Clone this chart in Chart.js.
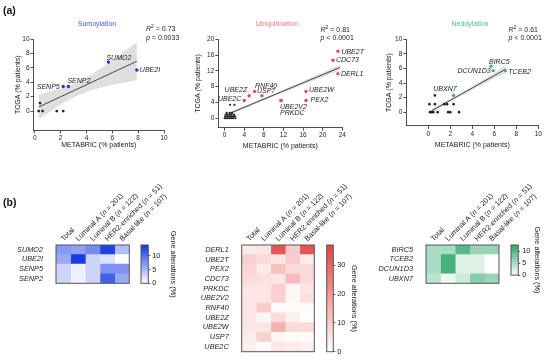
<!DOCTYPE html>
<html><head><meta charset="utf-8">
<script src="https://cdn.jsdelivr.net/npm/chart.js@4.4.0/dist/chart.umd.min.js"></script>
<style>
html,body{margin:0;padding:0;background:#fff;}
#wrap{position:relative;width:550px;height:360px;overflow:hidden;font-family:"Liberation Sans",Arial,sans-serif;color:#222;}
#wrap canvas{position:absolute;left:0;top:0;}
.t{position:absolute;white-space:nowrap;font-size:7px;line-height:8.7px;color:#222;}
.c{text-align:center;width:90px;}
.pl{position:absolute;font-weight:bold;font-size:10.5px;color:#111;}
.s{font-size:5px;vertical-align:3px;line-height:0;}
</style></head><body>
<div id="wrap">
<canvas id="c1" width="550" height="360"></canvas>
<canvas id="c2" width="550" height="360"></canvas>
<canvas id="c3" width="550" height="360"></canvas>
<canvas id="h1" width="550" height="360"></canvas>
<canvas id="h2" width="550" height="360"></canvas>
<canvas id="h3" width="550" height="360"></canvas>
<canvas id="b1" width="550" height="360"></canvas>
<canvas id="b2" width="550" height="360"></canvas>
<canvas id="b3" width="550" height="360"></canvas>
<div class="pl" style="left:3px;top:4px;">(a)</div>
<div class="pl" style="left:3px;top:196px;">(b)</div>
<div class="t c" style="left:52px;top:19.5px;color:#4457d8;">Sumoylation</div>
<div class="t c" style="left:232px;top:19.5px;color:#ee7b82;">Ubiquitination</div>
<div class="t c" style="left:425px;top:20px;color:#4cc08d;">Neddylation</div>
<div class="t" style="left:146px;top:25px;"><i>R</i><span class="s">2</span> = 0.73<br><i>p</i> = 0.0033</div>
<div class="t" style="left:320.5px;top:25.5px;"><i>R</i><span class="s">2</span> = 0.81<br><i>p</i> &lt; 0.0001</div>
<div class="t" style="left:508.5px;top:25.5px;"><i>R</i><span class="s">2</span> = 0.61<br><i>p</i> &lt; 0.0001</div>
</div>
<script>
// ---------- (a) scatter data ----------
const sumoGenes = ['SUMO2','UBE2I','SENP5','SENP2'];
const sumoMetabric = [5.7, 7.9, 2.2, 2.6];
const sumoTcga = [6.8, 5.7, 3.4, 3.4];
const sumoOtherMetabric = [0.4, 0.3, 0.6, 1.7, 2.2];
const sumoOtherTcga = [1.1, 0, 0, 0, 0];
const sumoFitX = [0.3, 1, 2, 3, 4, 5, 6, 7, 7.9];
const sumoFitY = [0.56, 1.15, 1.98, 2.82, 3.65, 4.49, 5.33, 6.16, 6.91];
const sumoBandHi = [2.26, 2.6, 3.08, 3.77, 4.65, 5.79, 7.03, 8.36, 9.51];
const sumoBandLo = [-1.14, -0.3, 0.88, 1.87, 2.65, 3.19, 3.63, 3.96, 4.31];

const ubiGenes = ['UBE2T','CDC73','DERL1','UBE2W','PEX2','UBE2V2','PRKDC','USP7','RNF40','UBE2Z','UBE2C'];
const ubiMetabric = [23.1, 22.1, 23.1, 16.6, 16.6, 11.5, 11.5, 7.6, 6.1, 5.0, 4.0];
const ubiTcga = [17.0, 14.7, 11.3, 6.8, 4.5, 4.5, 4.5, 5.7, 6.8, 5.7, 4.5];
const ubiOtherMetabric = [1.1, 2.0, 0, 0.3, 0.6, 0.9, 1.2, 1.5, 1.8, 2.2, 0.1, 0.5, 0.9, 1.3, 1.7, 2.1, 0.2, 0.6, 1.0, 1.4, 1.9, 0.4, 1.0, 1.5];
const ubiOtherTcga = [3.4, 3.4, 0, 0, 0, 0, 0, 0, 0, 0, 0.45, 0.45, 0.45, 0.45, 0.45, 0.45, 0.9, 0.9, 0.9, 0.9, 0.9, 1.35, 1.35, 1.35];
const ubiFitX = [1, 6, 12, 18, 23.5];
const ubiFitY = [1.22, 3.8, 6.9, 10.0, 12.85];
const ubiBandHi = [1.62, 4.1, 7.25, 10.5, 13.55];
const ubiBandLo = [0.82, 3.5, 6.55, 9.5, 12.15];

const neddGenes = ['BIRC5','DCUN1D3','TCEB2','UBXN7'];
const neddMetabric = [5.7, 5.9, 7.0, 2.3];
const neddTcga = [6.3, 5.7, 5.7, 2.3];
const neddOtherMetabric = [0.6, 0.1, 0.6, 1.45, 1.7, 2.3, 0.15, 0.3, 0.45, 0.85, 1.8, 2.0, 2.8];
const neddOtherTcga = [2.3, 1.1, 1.1, 1.1, 1.1, 1.1, 0, 0, 0, 0, 0, 0, 0];
const neddFitX = [0.3, 2, 4, 6, 7.05];
const neddFitY = [0.18, 1.63, 3.32, 5.02, 5.91];
const neddBandHi = [0.48, 1.83, 3.57, 5.42, 6.41];
const neddBandLo = [-0.12, 1.43, 3.07, 4.62, 5.41];

const ticks10 = [0, 2, 4, 6, 8, 10];
const ubiXTicks = [0, 4, 8, 12, 16, 20, 24];
const ubiYTicks = [0, 4, 8, 12, 16, 20];

// ---------- (b) heatmap data ----------
const subtypeNames = ['Total', 'Luminal A', 'Luminal B', 'HER2-enriched', 'Basal-like'];
const subtypeN = [null, 201, 122, 51, 107];

const sumoHeatGenes = ['SUMO2','UBE2I','SENP5','SENP2'];
const sumoHeat = [
  [7, 6.5, 8, 13, 4.5],
  [6, 13.5, 3, 2, 0],
  [3, 1, 3, 7.5, 7.5],
  [3, 1, 3, 11, 6]
];
const ubiHeatGenes = ['DERL1','UBE2T','PEX2','CDC73','PRKDC','UBE2V2','RNF40','UBE2Z','UBE2W','USP7','UBE2C'];
const ubiHeat = [
  [4, 5, 33, 10, 33],
  [9, 7, 5, 10, 4],
  [8, 4, 12, 7, 7],
  [7, 6, 5, 13, 7],
  [5, 5, 9, 2, 5],
  [5, 5, 9, 2, 6],
  [5, 10, 1, 1, 1],
  [5, 2, 7, 3, 0],
  [5, 5, 15, 7, 7],
  [4, 9, 2, 1, 1],
  [3, 1, 5, 4, 3]
];
const neddHeatGenes = ['BIRC5','TCEB2','DCUN1D3','UBXN7'];
const neddHeat = [
  [5, 5, 10, 6, 6],
  [5, 11, 2, 2, 0],
  [5, 11, 2, 2, 0],
  [4, 1, 3, 7, 6]
];
const sumoScaleMax = 14, ubiScaleMax = 37, neddScaleMax = 12.5;
const sumoBarTicks = [0, 5, 10], ubiBarTicks = [0, 10, 20, 30], neddBarTicks = [0, 5, 10];

// ---------- styles ----------
const FONT = '"Liberation Sans", Arial, sans-serif';
Chart.defaults.font.family = FONT;
Chart.defaults.color = '#222';
Chart.defaults.animation = false;
Chart.defaults.responsive = false;
Chart.defaults.devicePixelRatio = 1;
Chart.defaults.plugins.legend.display = false;
Chart.defaults.plugins.tooltip.enabled = false;

const labelOffsets = { // dx, dy, align
  SUMO2:[-2,-4.5,'left'], UBE2I:[3,0,'left'], SENP5:[-3.5,0.5,'right'], SENP2:[-1,-5.7,'left'],
  UBE2T:[3.5,0.5,'left'], CDC73:[3,0,'left'], DERL1:[3,0,'left'], UBE2W:[3,-1,'left'], PEX2:[4.5,0,'left'],
  UBE2V2:[-1,6.3,'left'], PRKDC:[-1,13,'left'], USP7:[-5,-4.3,'left'], RNF40:[0.5,-5.6,'left'],
  UBE2Z:[-2,-5.3,'right'], UBE2C:[-3,-1,'right'],
  BIRC5:[-2,-4.6,'left'], DCUN1D3:[-2.6,0,'right'], TCEB2:[3,1,'left'], UBXN7:[3,-6.4,'right']
};

function fixSize(size){
  return function(s){
    if (s.isHorizontal()) s.height = size; else s.width = size;
    s.paddingLeft = s.paddingRight = s.paddingTop = s.paddingBottom = 0;
  };
}
function setTicks(arr){ return function(s){ s.ticks = arr.map(v => ({value: v})); }; }
function pts(xs, ys){ return xs.map((x, i) => ({x: x, y: ys[i]})); }

const geneLabelPlugin = {
  id: 'geneLabels',
  afterDatasetsDraw(chart){
    const ctx = chart.ctx;
    chart.data.datasets.forEach((d, i) => {
      if (!d.geneNames) return;
      const meta = chart.getDatasetMeta(i);
      ctx.save();
      ctx.font = 'italic 7px ' + FONT;
      ctx.fillStyle = '#222';
      ctx.textBaseline = 'middle';
      meta.data.forEach((pt, j) => {
        const name = d.geneNames[j];
        const o = labelOffsets[name] || [3, 0, 'left'];
        ctx.textAlign = o[2];
        ctx.fillText(name, pt.x + o[0], pt.y + o[1]);
      });
      ctx.restore();
    });
  }
};

function scatterChart(id, c){
  const tickFont = {size: 6.5};
  new Chart(document.getElementById(id), {
    type: 'scatter',
    data: { datasets: [
      {data: pts(c.gx, c.gy), geneNames: c.genes, pointRadius: 1.7, pointBackgroundColor: c.color, pointBorderWidth: 0, order: 0},
      {data: pts(c.ox, c.oy), pointRadius: c.otherR, pointBackgroundColor: '#222', pointBorderWidth: 0, order: 1},
      {data: pts(c.fx, c.fy), showLine: true, pointRadius: 0, borderColor: '#333', borderWidth: 0.9, order: 2},
      {data: pts(c.fx, c.hi), showLine: true, pointRadius: 0, borderWidth: 0, borderColor: 'rgba(0,0,0,0)', tension: 0.35, fill: '+1', backgroundColor: 'rgba(175,175,175,0.4)', order: 3},
      {data: pts(c.fx, c.lo), showLine: true, pointRadius: 0, borderWidth: 0, borderColor: 'rgba(0,0,0,0)', tension: 0.35, order: 4}
    ]},
    options: {
      layout: {padding: {left: c.area.l - c.wy, right: 550 - c.area.r, top: c.area.t, bottom: 360 - c.area.b - c.hx}},
      scales: {
        x: {type: 'linear', min: c.xMin, max: c.xMax, afterBuildTicks: setTicks(c.xTicks), afterFit: fixSize(c.hx),
            ticks: {font: tickFont, padding: 1, maxRotation: 0, color: '#222'},
            grid: {display: true, drawOnChartArea: false, drawTicks: true, tickLength: 3, color: '#222', lineWidth: 0.8},
            border: {display: true, color: '#222', width: 0.8},
            title: {display: true, text: 'METABRIC (% patients)', font: {size: 7}, padding: 0, color: '#222'}},
        y: {type: 'linear', min: c.yMin, max: c.yMax, afterBuildTicks: setTicks(c.yTicks), afterFit: fixSize(c.wy),
            ticks: {font: tickFont, padding: 1, color: '#222'},
            grid: {display: true, drawOnChartArea: false, drawTicks: true, tickLength: 3, color: '#222', lineWidth: 0.8},
            border: {display: true, color: '#222', width: 0.8},
            title: {display: true, text: 'TCGA (% patients)', font: {size: 7}, padding: 0, color: '#222'}}
      }
    },
    plugins: [geneLabelPlugin]
  });
}

scatterChart('c1', {genes: sumoGenes, gx: sumoMetabric, gy: sumoTcga, ox: sumoOtherMetabric, oy: sumoOtherTcga, otherR: 1.4,
  fx: sumoFitX, fy: sumoFitY, hi: sumoBandHi, lo: sumoBandLo, color: '#2236c9',
  area: {l: 33.5, r: 164, t: 39, b: 130.5}, wy: 19.7, hx: 18.4, xMin: -0.1, xMax: 10, yMin: -2.7, yMax: 10, xTicks: ticks10, yTicks: ticks10});
scatterChart('c2', {genes: ubiGenes, gx: ubiMetabric, gy: ubiTcga, ox: ubiOtherMetabric, oy: ubiOtherTcga, otherR: 1.1,
  fx: ubiFitX, fy: ubiFitY, hi: ubiBandHi, lo: ubiBandLo, color: '#e84a55',
  area: {l: 218.3, r: 342.3, t: 39.3, b: 127.7}, wy: 24.2, hx: 22.2, xMin: -1.3, xMax: 24, yMin: -2.4, yMax: 20, xTicks: ubiXTicks, yTicks: ubiYTicks});
scatterChart('c3', {genes: neddGenes, gx: neddMetabric, gy: neddTcga, ox: neddOtherMetabric, oy: neddOtherTcga, otherR: 1.3,
  fx: neddFitX, fy: neddFitY, hi: neddBandHi, lo: neddBandLo, color: '#3db37c',
  area: {l: 406.3, r: 538.3, t: 39.3, b: 126}, wy: 21.2, hx: 23.2, xMin: -2, xMax: 10, yMin: -1.9, yMax: 10, xTicks: ticks10, yTicks: ticks10});

// ---------- heatmaps ----------
function mix(rgb, t){
  t = Math.max(0, Math.min(1, t));
  const r = Math.round(255 + (rgb[0] - 255) * t), g = Math.round(255 + (rgb[1] - 255) * t), b = Math.round(255 + (rgb[2] - 255) * t);
  return 'rgb(' + r + ',' + g + ',' + b + ')';
}
const decorPlugin = {
  id: 'decor',
  afterDraw(chart){
    const o = chart.options.plugins.decor || {};
    const a = chart.chartArea, ctx = chart.ctx;
    ctx.save();
    ctx.strokeStyle = '#555'; ctx.lineWidth = 1;
    ctx.strokeRect(a.left, a.top, a.right - a.left, a.bottom - a.top);
    if (o.columns){
      const xs = chart.scales.x;
      ctx.fillStyle = '#222';
      ctx.textBaseline = 'middle';
      ctx.textAlign = 'left';
      o.columns.forEach((parts, c) => {
        const cx = xs.getPixelForValue(c + 0.5);
        ctx.save();
        ctx.translate(cx - 1, a.top - 5);
        ctx.rotate(-Math.PI / 4);
        let x = 0;
        parts.forEach(p => {
          ctx.font = (p.i ? 'italic ' : '') + '7.3px ' + FONT;
          ctx.fillText(p.t, x, 0);
          x += ctx.measureText(p.t).width;
        });
        ctx.restore();
      });
    }
    ctx.restore();
  }
};
const columnParts = subtypeNames.map((nm, i) => subtypeN[i] == null ? [{t: nm}] :
  [{t: nm + ' ('}, {t: 'n', i: true}, {t: ' = ' + subtypeN[i] + ')'}]);

function heatChart(id, genes, matrix, maxVal, rgb, area, wy){
  const datasets = subtypeNames.map((nm, c) => ({
    data: genes.map(() => [c, c + 1]),
    backgroundColor: genes.map((g, r) => mix(rgb, matrix[r][c] / maxVal)),
    borderWidth: 0, barPercentage: 1, categoryPercentage: 1, grouped: false
  }));
  new Chart(document.getElementById(id), {
    type: 'bar',
    data: {labels: genes, datasets: datasets},
    options: {
      indexAxis: 'y',
      layout: {padding: {left: area.l - wy, right: 550 - area.r, top: area.t, bottom: 360 - area.b}},
      scales: {
        x: {type: 'linear', min: 0, max: 5, display: false},
        y: {grid: {display: false}, border: {display: false}, afterFit: fixSize(wy),
            ticks: {font: {size: 7.3, style: 'italic'}, padding: 5, color: '#222', autoSkip: false}}
      },
      plugins: {decor: {columns: columnParts}}
    },
    plugins: [decorPlugin]
  });
}
heatChart('h1', sumoHeatGenes, sumoHeat, sumoScaleMax, [16, 52, 226], {l: 56, r: 129.3, t: 245, b: 283.3}, 50);
heatChart('h2', ubiHeatGenes, ubiHeat, ubiScaleMax, [232, 62, 62], {l: 241.7, r: 314.3, t: 245, b: 351.7}, 50);
heatChart('h3', neddHeatGenes, neddHeat, neddScaleMax, [44, 166, 104], {l: 426, r: 499, t: 245, b: 283.3}, 50);

function barChart(id, maxVal, rgb, tickArr, area, w){
  new Chart(document.getElementById(id), {
    type: 'bar',
    data: {labels: [''], datasets: [{
      data: [[0, maxVal]], borderWidth: 0, barPercentage: 1, categoryPercentage: 1,
      backgroundColor: (ctx) => {
        const a = ctx.chart.chartArea;
        if (!a) return '#fff';
        const ys = ctx.chart.scales.y;
        const g = ctx.chart.ctx.createLinearGradient(0, ys.getPixelForValue(0), 0, ys.getPixelForValue(maxVal));
        g.addColorStop(0, mix(rgb, 0)); g.addColorStop(1, mix(rgb, 1));
        return g;
      }
    }]},
    options: {
      layout: {padding: {left: area.l, right: 550 - area.r - w, top: area.t, bottom: 360 - area.b}},
      scales: {
        x: {display: false},
        y: {position: 'right', min: 0, max: maxVal, afterBuildTicks: setTicks(tickArr), afterFit: fixSize(w),
            ticks: {font: {size: 7.3}, padding: 2, color: '#222'},
            grid: {display: true, drawOnChartArea: false, drawTicks: true, tickLength: 2, color: '#555'},
            border: {display: false},
            title: {display: true, text: 'Gene alterations (%)', font: {size: 7.3}, padding: 0, color: '#222'}}
      },
      plugins: {decor: {}}
    },
    plugins: [decorPlugin]
  });
}
barChart('b1', sumoScaleMax, [16, 52, 226], sumoBarTicks, {l: 141, r: 148.3, t: 245, b: 283.3}, 29.5);
barChart('b2', ubiScaleMax, [232, 62, 62], ubiBarTicks, {l: 326.7, r: 333.3, t: 245, b: 351.7}, 25.2);
barChart('b3', neddScaleMax, [44, 166, 104], neddBarTicks, {l: 511, r: 518.3, t: 245, b: 275}, 22.9);
</script>
</body></html>
